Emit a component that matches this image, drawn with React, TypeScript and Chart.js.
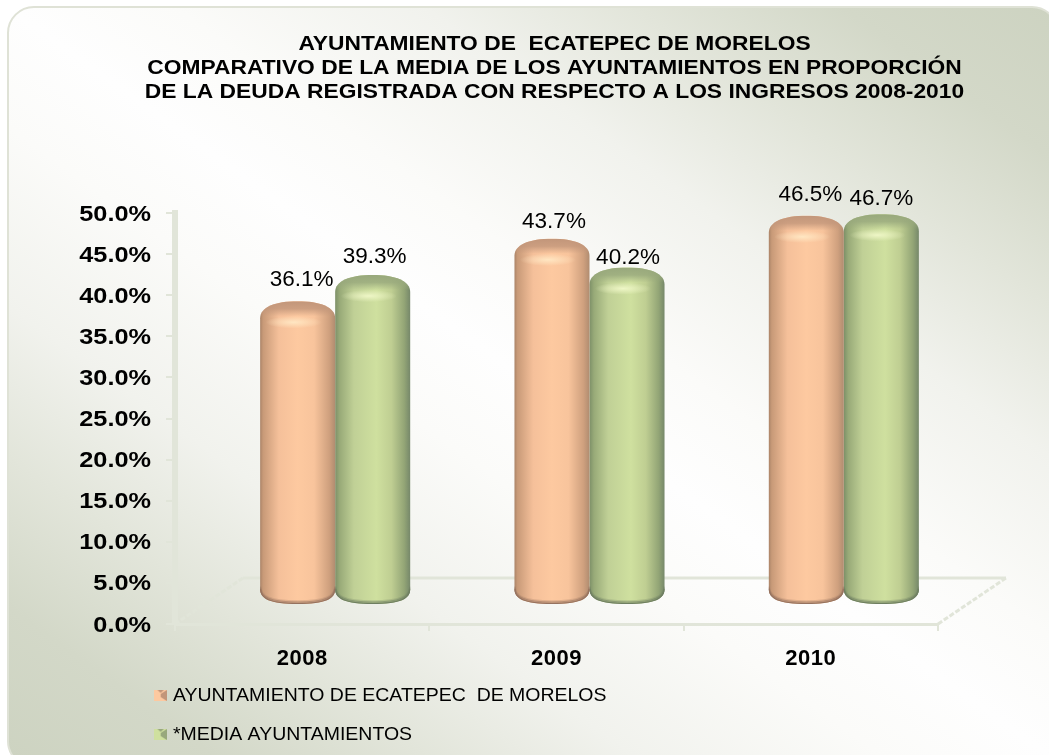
import React, { useEffect, useRef } from "react";
import { Chart, registerables } from "chart.js";

Chart.register(...registerables);

const TITLE_LINES = [
  "AYUNTAMIENTO DE  ECATEPEC DE MORELOS",
  "COMPARATIVO DE LA MEDIA DE LOS AYUNTAMIENTOS EN PROPORCIÓN",
  "DE LA DEUDA REGISTRADA CON RESPECTO A LOS INGRESOS 2008-2010",
];
const YEARS = ["2008", "2009", "2010"];
const SERIES_A_NAME = "AYUNTAMIENTO DE ECATEPEC  DE MORELOS";
const SERIES_B_NAME = "*MEDIA AYUNTAMIENTOS";
const SERIES_A = [36.1, 43.7, 46.5];
const SERIES_B = [39.3, 40.2, 46.7];

const FONT = '"Liberation Sans", Arial, sans-serif';
const W = 1049;
const H = 755;
const AREA = { left: 175, right: 938, top: 213, bottom: 624 };
const BAR_DX = 33;
const BAR_DY = 26;
const FLOOR_DX = 68;
const FLOOR_DY = 46;
const AXIS = "#e1e5d9";

const PALETTE = [
  {
    stops: [[0, "#ab8468"], [0.04, "#c89a78"], [0.25, "#f5c09a"], [0.5, "#fdc9a0"], [0.72, "#f8c49c"], [0.92, "#cfa07e"], [1, "#b08c70"]],
    mid: "#fdc9a0", cap: "#c2967a", hi: "#ffe6c2", rim: "#96735f",
  },
  {
    stops: [[0, "#7d9068"], [0.06, "#98aa78"], [0.25, "#c0d096"], [0.55, "#cfe09f"], [0.75, "#bfce92"], [0.92, "#93a576"], [1, "#76886a"]],
    mid: "#cfe09f", cap: "#98a87c", hi: "#eef6c6", rim: "#6f7f62",
  },
];
// hand-placed offsets of the value labels, relative to the top of each cylinder
const LABEL_NUDGE = [
  [[4, -21], [2, -17], [4, -21]],
  [[2, -18], [1, -10], [0, -15]],
];

function stretch(ctx: CanvasRenderingContext2D, pivot: number, k: number, dy: number, fn: () => void) {
  ctx.save();
  ctx.translate(pivot, dy);
  ctx.scale(k, 1);
  ctx.translate(-pivot, 0);
  fn();
  ctx.restore();
}

const BOTTOM_H = 15;
const TOP_H = 17;

function bottomCurve(ctx: CanvasRenderingContext2D, cx: number, rx: number, y: number) {
  ctx.moveTo(cx + rx, y);
  ctx.bezierCurveTo(cx + rx, y + BOTTOM_H * 0.65, cx + rx * 0.75, y + BOTTOM_H, cx, y + BOTTOM_H);
  ctx.bezierCurveTo(cx - rx * 0.75, y + BOTTOM_H, cx - rx, y + BOTTOM_H * 0.65, cx - rx, y);
}

function cylinderPath(ctx: CanvasRenderingContext2D, cx: number, rx: number, yTop: number, yBase: number) {
  ctx.beginPath();
  ctx.moveTo(cx - rx, yBase);
  ctx.lineTo(cx - rx, yTop + TOP_H);
  ctx.bezierCurveTo(cx - rx, yTop + TOP_H * 0.35, cx - rx * 0.6, yTop, cx, yTop);
  ctx.bezierCurveTo(cx + rx * 0.6, yTop, cx + rx, yTop + TOP_H * 0.35, cx + rx, yTop + TOP_H);
  ctx.lineTo(cx + rx, yBase);
  ctx.bezierCurveTo(cx + rx, yBase + BOTTOM_H * 0.65, cx + rx * 0.75, yBase + BOTTOM_H, cx, yBase + BOTTOM_H);
  ctx.bezierCurveTo(cx - rx * 0.75, yBase + BOTTOM_H, cx - rx, yBase + BOTTOM_H * 0.65, cx - rx, yBase);
  ctx.closePath();
}

function drawCylinder(ctx: CanvasRenderingContext2D, el: any, p: (typeof PALETTE)[number]) {
  const { x, y, base, width } = el.getProps(["x", "y", "base", "width"], true);
  const cx = x + BAR_DX;
  const rx = width / 2;
  const yTop = y - BAR_DY;
  const yBase = base - BAR_DY - 8;
  ctx.save();
  cylinderPath(ctx, cx, rx, yTop, yBase);
  const body = ctx.createLinearGradient(cx - rx, 0, cx + rx, 0);
  p.stops.forEach(([o, c]) => body.addColorStop(o as number, c as string));
  ctx.fillStyle = body;
  ctx.fill();
  ctx.clip();
  // bevel at the top
  const cap = ctx.createLinearGradient(0, yTop, 0, yTop + 15);
  cap.addColorStop(0, p.cap);
  cap.addColorStop(0.5, p.cap + "d0");
  cap.addColorStop(1, p.cap + "00");
  ctx.fillStyle = cap;
  ctx.fillRect(cx - rx, yTop, width, 15);
  // highlight below the bevel
  ctx.save();
  ctx.translate(cx - 4, yTop + 21);
  ctx.scale(1, 0.22);
  const hi = ctx.createRadialGradient(0, 0, 0, 0, 0, rx * 0.75);
  hi.addColorStop(0, p.hi);
  hi.addColorStop(1, p.hi + "00");
  ctx.fillStyle = hi;
  ctx.beginPath();
  ctx.arc(0, 0, rx * 0.75, 0, 2 * Math.PI);
  ctx.fill();
  ctx.restore();
  // dark rim at the bottom
  ["ff", "90", "40"].forEach((a, i) => {
    ctx.strokeStyle = p.rim + a;
    ctx.lineWidth = 2;
    ctx.beginPath();
    bottomCurve(ctx, cx, rx, yBase - i * 1.4);
    ctx.stroke();
  });
  ctx.restore();
}

const scenePlugin = {
  id: "scene",
  beforeLayout(chart: any) {
    const lg = chart.legend;
    if (lg && !lg.__wrapped) {
      const orig = lg.update.bind(lg);
      lg.update = (_w: number, h: number, m: any) => orig(470, h, m);
      const drawLegend = lg.draw.bind(lg);
      lg.draw = () => stretch(chart.ctx, 155, 1.025, 0, drawLegend);
      lg.__wrapped = true;
    }
    const tb = chart.titleBlock;
    if (tb && !tb.__wrapped) {
      const drawTitle = tb.draw.bind(tb);
      tb.draw = () => stretch(chart.ctx, 554.5, 1.14, 0, drawTitle);
      tb.__wrapped = true;
    }
    const ys = chart.scales.y;
    if (ys && !ys.__wrapped) {
      const drawY = ys.drawLabels.bind(ys);
      ys.drawLabels = (a: any) => stretch(chart.ctx, 151, 1.15, 1.5, () => drawY(a));
      ys.__wrapped = true;
    }
    const xs = chart.scales.x;
    if (xs && !xs.__wrapped) {
      const drawX = xs.drawLabels.bind(xs);
      xs.drawLabels = (a: any) => {
        const c: any = chart.ctx;
        c.letterSpacing = "0.5px";
        drawX(a);
        c.letterSpacing = "0px";
      };
      xs.__wrapped = true;
    }
  },
  afterLayout(chart: any) {
    chart.legend.left = 138;
    chart.legend.right = 608;
    chart.legend.top = 666;
    chart.titleBlock.left = 30;
    chart.titleBlock.right = W + 30;
    chart.titleBlock.top = 2;
  },
  beforeDraw(chart: any) {
    const ctx: CanvasRenderingContext2D = chart.ctx;
    ctx.save();
    ctx.fillStyle = "#ffffff";
    ctx.fillRect(0, 0, W, H);
    const g = ctx.createLinearGradient(883, -113, 173, 875);
    g.addColorStop(0, "#cdd3c1");
    g.addColorStop(0.1, "#d3d8c8");
    g.addColorStop(0.2, "#e2e5da");
    g.addColorStop(0.3, "#f1f2ed");
    g.addColorStop(0.42, "#fbfbf9");
    g.addColorStop(0.5, "#fefefe");
    g.addColorStop(0.58, "#fbfbf9");
    g.addColorStop(0.7, "#f1f2ed");
    g.addColorStop(0.8, "#e2e5da");
    g.addColorStop(0.9, "#d3d8c8");
    g.addColorStop(1, "#cdd3c1");
    ctx.beginPath();
    ctx.roundRect(8, 7, 1050, 760, 26);
    ctx.fillStyle = g;
    ctx.fill();
    ctx.strokeStyle = "#dfe2d6";
    ctx.lineWidth = 2;
    ctx.stroke();
    ctx.restore();
  },
  beforeDatasetsDraw(chart: any) {
    const ctx: CanvasRenderingContext2D = chart.ctx;
    const { left, right, bottom } = chart.chartArea;
    ctx.save();
    ctx.strokeStyle = AXIS;
    ctx.lineWidth = 3;
    ctx.beginPath();
    ctx.moveTo(left + FLOOR_DX, bottom - FLOOR_DY);
    ctx.lineTo(right + FLOOR_DX, bottom - FLOOR_DY);
    ctx.stroke();
    ctx.setLineDash([5, 2]);
    ctx.beginPath();
    ctx.moveTo(left, bottom);
    ctx.lineTo(left + FLOOR_DX, bottom - FLOOR_DY);
    ctx.moveTo(right, bottom);
    ctx.lineTo(right + FLOOR_DX, bottom - FLOOR_DY);
    ctx.stroke();
    ctx.restore();
  },
  beforeDatasetDraw(chart: any, args: any) {
    const ctx: CanvasRenderingContext2D = chart.ctx;
    args.meta.data.forEach((el: any) => drawCylinder(ctx, el, PALETTE[args.index]));
    return false;
  },
  afterDatasetsDraw(chart: any) {
    const ctx: CanvasRenderingContext2D = chart.ctx;
    ctx.save();
    ctx.font = `22.5px ${FONT}`;
    ctx.fillStyle = "#000";
    ctx.textAlign = "center";
    ctx.textBaseline = "middle";
    chart.data.datasets.forEach((ds: any, i: number) => {
      chart.getDatasetMeta(i).data.forEach((el: any, j: number) => {
        const [nx, ny] = LABEL_NUDGE[i][j];
        ctx.fillText(`${ds.data[j].toFixed(1)}%`, el.x + BAR_DX + nx, el.y - BAR_DY + ny);
      });
    });
    ctx.restore();
  },
};

function makeMarker(p: (typeof PALETTE)[number]) {
  const c = document.createElement("canvas");
  c.width = 12;
  c.height = 11;
  const x = c.getContext("2d")!;
  x.fillStyle = p.mid;
  x.fillRect(0, 0, 12, 11);
  x.fillStyle = p.cap;
  x.beginPath();
  x.moveTo(12, 0);
  x.lineTo(6, 4);
  x.lineTo(6, 7);
  x.lineTo(12, 11);
  x.closePath();
  x.fill();
  x.beginPath();
  x.moveTo(3, 0);
  x.lineTo(9, 0);
  x.lineTo(6, 3);
  x.closePath();
  x.fill();
  return c;
}

export default function App() {
  const ref = useRef<HTMLCanvasElement>(null);
  useEffect(() => {
    document.body.style.margin = "0";
    const markers = PALETTE.map(makeMarker);
    const chart = new Chart(ref.current!, {
      type: "bar",
      data: {
        labels: YEARS,
        datasets: [
          { label: SERIES_A_NAME, data: SERIES_A, backgroundColor: PALETTE[0].mid, categoryPercentage: 0.59, barPercentage: 1 },
          { label: SERIES_B_NAME, data: SERIES_B, backgroundColor: PALETTE[1].mid, categoryPercentage: 0.59, barPercentage: 1 },
        ],
      },
      options: {
        responsive: false,
        animation: false,
        events: [],
        layout: { padding: { left: 0, right: W - AREA.right, top: 0, bottom: 0 } },
        scales: {
          x: {
            grid: { drawOnChartArea: false, drawTicks: true, tickLength: 7, color: AXIS, lineWidth: 2, offset: true },
            border: { color: AXIS, width: 3 },
            ticks: { color: "#000", font: { family: FONT, size: 22, weight: "bold" }, padding: 15, autoSkip: false, maxRotation: 0 },
            afterFit: (s: any) => {
              s.height = H - AREA.bottom - (s.chart.legend ? s.chart.legend.height : 0);
            },
          },
          y: {
            min: 0,
            max: 50,
            grid: { drawOnChartArea: false, drawTicks: true, tickLength: 9, color: AXIS, lineWidth: 2 },
            border: { color: AXIS, width: 6 },
            ticks: {
              stepSize: 5,
              color: "#000",
              padding: 15,
              font: { family: FONT, size: 22, weight: "bold" },
              callback: (v: any) => `${Number(v).toFixed(1)}%`,
            },
            afterFit: (s: any) => {
              s.width = AREA.left;
            },
          },
        },
        plugins: {
          tooltip: { enabled: false },
          title: {
            display: true,
            text: TITLE_LINES,
            color: "#000",
            font: { family: FONT, size: 20, weight: "bold", lineHeight: 1.18 },
            padding: { top: 31, bottom: AREA.top - 31 - 3 * 20 * 1.18 },
          },
          legend: {
            display: true,
            position: "bottom",
            align: "start",
            labels: {
              color: "#000",
              font: { family: FONT, size: 19 },
              usePointStyle: true,
              boxWidth: 5,
              boxHeight: 11,
              padding: 20,
              generateLabels: (c: any) =>
                (Chart.defaults.plugins.legend.labels as any)
                  .generateLabels(c)
                  .map((l: any, i: number) => ({ ...l, pointStyle: markers[i] })),
            },
          },
        },
      } as any,
      plugins: [scenePlugin as any],
    });
    return () => chart.destroy();
  }, []);
  return <canvas ref={ref} width={W} height={H} style={{ display: "block", width: W, height: H }} />;
}
